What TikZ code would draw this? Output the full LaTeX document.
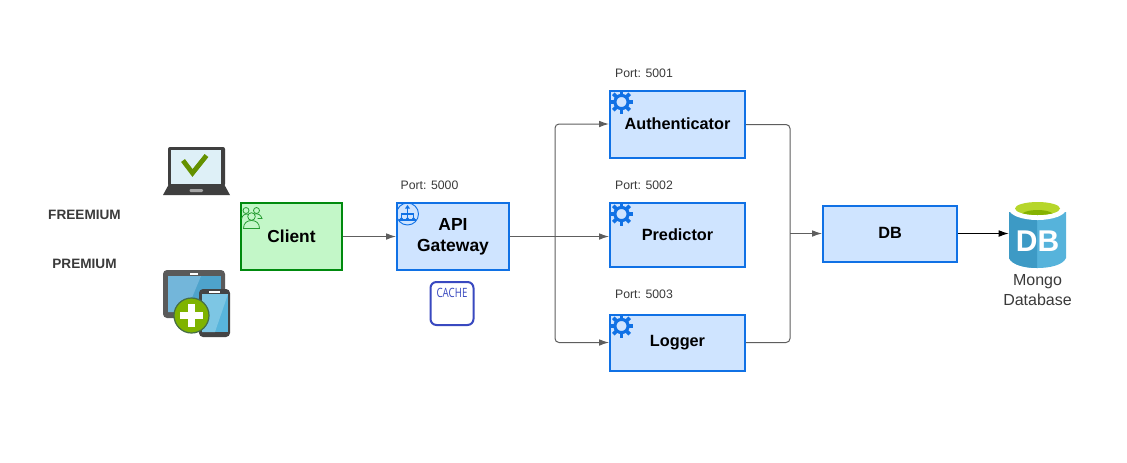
\documentclass[tikz,border=0pt]{standalone}
\usepackage{fontspec}
\setmainfont{Liberation Sans}
\newfontfamily\cachefont{Open Sans}
\usetikzlibrary{arrows.meta,calc}
\definecolor{blueedge}{HTML}{1071E5}
\definecolor{bluefill}{HTML}{CFE4FF}
\definecolor{greenedge}{HTML}{008A0E}
\definecolor{greenfill}{HTML}{C3F7C8}
\definecolor{linegray}{HTML}{5E5E5E}
\definecolor{textgray}{HTML}{3A3A3A}
\definecolor{cacheblue}{RGB}{57,73,192}
\tikzset{
  x=0.75pt,y=-0.75pt,
  svcbox/.style={draw=blueedge,fill=bluefill,line width=1.5pt,inner sep=0pt,font=\fontsize{12.2pt}{15.5pt}\selectfont\bfseries,align=center,text=black},
  clientbox/.style={draw=greenedge,fill=greenfill,line width=1.5pt,inner sep=0pt,font=\fontsize{13pt}{15pt}\selectfont\bfseries,text=black},
  portlabel/.style={font=\fontsize{9.2pt}{11pt}\selectfont,text=textgray,inner sep=0pt},
  tierlabel/.style={font=\fontsize{10.2pt}{12pt}\selectfont\bfseries,text=textgray,inner sep=0pt},
  conn/.style={draw=linegray,line width=0.75pt,rounded corners=3pt,-{Latex[length=7.5pt,width=5pt]}},
  plain/.style={draw=linegray,line width=0.75pt,rounded corners=3pt},
}
\newcommand{\gearicon}[2]{%
  \begin{scope}
    \clip (#1-11.5,#2-10) rectangle (#1+12,#2+12);
    \draw[blueedge,line width=2.3pt] (#1,#2) circle[radius=6.6];
    \foreach \a in {0,45,...,315}{
      \draw[blueedge,line width=2.8pt] ($(#1,#2)+(\a:7.5)$) -- ($(#1,#2)+(\a:11.6)$);
    }
  \end{scope}
}
\begin{document}
\begin{tikzpicture}
\useasboundingbox (0,0) rectangle (1127,462);
\fill[white] (0,0) rectangle (1127,462);

% boxes (positions are centres, px)
\node[clientbox,minimum width=101*0.75pt,minimum height=67*0.75pt] (client) at (291.5,236.5) {\raisebox{1pt}{Client}};
\node[svcbox,font=\fontsize{13.1pt}{15.5pt}\selectfont\bfseries,minimum width=112*0.75pt,minimum height=67*0.75pt] (api) at (453,236.5) {API\\Gateway};
\node[svcbox,minimum width=135*0.75pt,minimum height=67*0.75pt] (auth) at (677.5,124.5) {\raisebox{1.5pt}{Authenticator}};
\node[svcbox,minimum width=135*0.75pt,minimum height=64*0.75pt] (pred) at (677.5,235) {\raisebox{1pt}{Predictor}};
\node[svcbox,minimum width=135*0.75pt,minimum height=56*0.75pt] (logger) at (677.5,343) {\raisebox{1pt}{Logger}};
\node[svcbox,minimum width=134*0.75pt,minimum height=56*0.75pt] (db) at (890,234) {\raisebox{1pt}{DB}};
\node[minimum width=57*0.75pt,minimum height=64*0.75pt,inner sep=0pt] (mongo) at (1037.5,236) {};

% text labels
\node[tierlabel] (free) at (84.5,214.5) {FREEMIUM};
\node[tierlabel] (prem) at (84.5,263.5) {PREMIUM};
\node[portlabel] (p0) at (429.5,185) {Port: 5000};
\node[portlabel] (p1) at (644,73) {Port: 5001};
\node[portlabel] (p2) at (644,185) {Port: 5002};
\node[portlabel] (p3) at (644,294) {Port: 5003};
\node[font=\fontsize{12pt}{15pt}\selectfont,text=textgray,align=center,inner sep=0pt] (mlabel) at (1037.5,290) {Mongo\\Database};

% connectors
\coordinate (split) at (555,236.5);
\coordinate (merge) at (790,233.5);
\draw[conn] (client.east) -- (api.west);
\draw[conn] (api.east) -- (pred.west |- api.east);
\draw[conn] (split) -- (555,124) -- (auth.west |- 0,124);
\draw[conn] (split) -- (555,342.5) -- (logger.west |- 0,342.5);
\draw[plain] (auth.east |- 0,124.5) -- (790,124.5) -- (merge);
\draw[plain] (logger.east |- 0,342.5) -- (790,342.5) -- (merge);
\draw[conn] (merge) -- (db.west |- merge);
\draw[draw=black,line width=0.75pt,-{Latex[length=7.5pt,width=5pt]}] (db.east |- 0,233.5) -- (mongo.west |- 0,233.5);

% gears
\gearicon{621.5}{102}
\gearicon{621.5}{214}
\gearicon{621.5}{326}

% API icon
\draw[blueedge,line width=0.7pt] (407.5,214) circle[radius=11];
\draw[blueedge,line width=0.8pt] (407.5,207) -- (407.5,219) (401.5,219) -- (401.5,214) -- (413.5,214) -- (413.5,219) (399,220) -- (416,220);
\fill[blueedge] (407.5,205) -- (405,208.5) -- (410,208.5) -- cycle;
\foreach \px in {401.5,407.5,413.5}{\fill[blueedge] (\px,218.5) circle[radius=1.5];}

% Client people icon
\begin{scope}[draw=greenedge!85!white,line width=0.6pt]
  \draw (246,210.5) circle[radius=3];
  \draw (256.5,210.5) circle[radius=3];
  \draw (241.5,219) .. controls (242,215) and (246,213) .. (248.5,214.5);
  \draw (254,214) .. controls (258,213) and (261,215) .. (262,218.5) -- (257.5,218.5);
  \draw (251.5,216.5) circle[radius=3.8];
  \draw (243.5,228.5) .. controls (243.5,223) and (247,220.5) .. (251.5,220.5) .. controls (256,220.5) and (259.5,223) .. (259.5,228.5) -- cycle;
\end{scope}

% Cache icon
\node[draw=cacheblue,rounded corners=4.5pt,line width=1.5pt,minimum width=43*0.75pt,minimum height=43*0.75pt,inner sep=0pt] (cache) at (452,303.5) {};
\node[font=\cachefont\fontsize{9.6pt}{9.6pt}\selectfont,text=cacheblue,inner sep=0pt] (cachetxt) at (452,292.5) {\scalebox{0.76}[1]{CACHE}};

% Laptop icon
\fill[rounded corners=1.5pt,fill={rgb,255:red,63;green,63;blue,63}] (168,147) -- (225,147) -- (225,186) -- (168,186) -- cycle;
\fill[fill={rgb,255:red,63;green,63;blue,63}] (169,184) -- (224,184) -- (230,195) -- (163,195) -- cycle;
\fill[fill={rgb,255:red,222;green,240;blue,247}] (171,149.5) rectangle (221,184);
\fill[fill={rgb,255:red,165;green,165;blue,165},rounded corners=0.8pt] (189.5,189) rectangle (203,192);
\draw[line width=3.6pt,draw={rgb,255:red,100;green,145;blue,0}] (183,160.5) -- (192.5,173) -- (206.5,155.5);

% Tablet and phone icon
\fill[fill={rgb,255:red,90;green,90;blue,90},rounded corners=3pt] (163,270) rectangle (225,318);
\fill[fill={rgb,255:red,78;green,163;blue,204}] (168,276) rectangle (221,312);
\fill[fill={rgb,255:red,115;green,182;blue,218}] (168,312) -- (168,276) -- (201,276) -- (186,312) -- cycle;
\fill[white] (189.5,272.5) rectangle (197.5,274.5);
\fill[fill={rgb,255:red,68;green,68;blue,68},rounded corners=3pt] (199,289) rectangle (230,337);
\fill[fill={rgb,255:red,88;green,181;blue,220}] (202,294) rectangle (228,332);
\fill[fill={rgb,255:red,125;green,198;blue,228}] (202,332) -- (202,294) -- (228,294) -- (215,332) -- cycle;
\fill[white] (209,291) rectangle (220,292.5);
\fill[fill={rgb,255:red,127;green,179;blue,0},draw={rgb,255:red,70;green,110;blue,70},line width=0.9pt] (191.5,315.5) circle[radius=17.5];
\fill[white] (188,304) rectangle (195,327);
\fill[white] (180,312) rectangle (203,319);

% Mongo cylinder icon
\fill[fill={rgb,255:red,86;green,179;blue,219}] (1009,212) -- (1009,258) .. controls (1012,265) and (1025,268) .. (1037.5,268) .. controls (1050,268) and (1063,265) .. (1066,258) -- (1066,212) -- cycle;
\fill[fill={rgb,255:red,61;green,154;blue,197}] (1009,212) -- (1009,258) .. controls (1012,265) and (1025,268) .. (1037,268) -- (1037,212) -- cycle;
\fill[white] (1037.5,209) ellipse[x radius=28.5,y radius=11];
\fill[fill={rgb,255:red,182;green,214;blue,42}] (1037.5,208.5) ellipse[x radius=22.5,y radius=6.5];
\begin{scope}
  \clip (1037.5,208.5) ellipse[x radius=22.5,y radius=6.5];
  \fill[fill={rgb,255:red,133;green,178;blue,0}] (1037.5,216) ellipse[x radius=17,y radius=6];
\end{scope}
\node[font=\fontsize{22.5pt}{22.5pt}\selectfont\bfseries,text=white,inner sep=0pt] (dbmark) at (1037.5,241) {DB};
\end{tikzpicture}
\end{document}
